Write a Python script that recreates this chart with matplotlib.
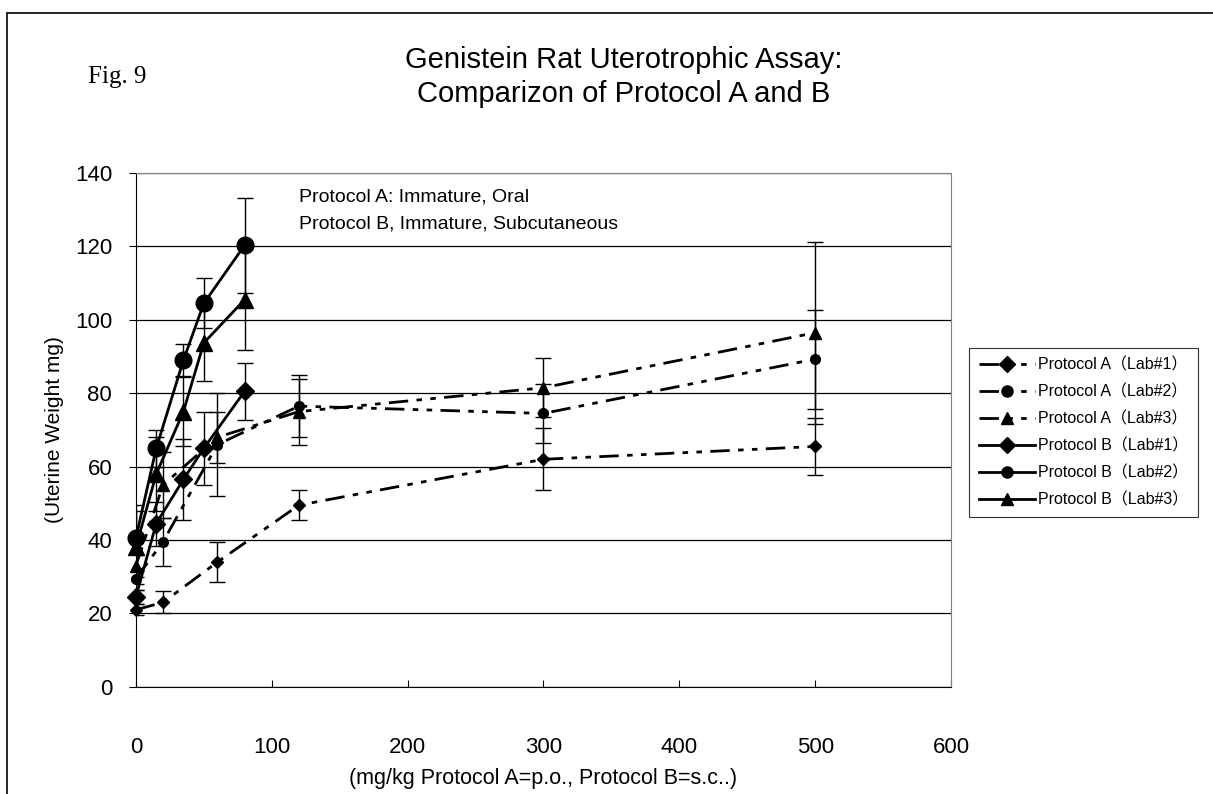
import matplotlib
matplotlib.use("Agg")
import matplotlib.pyplot as plt
from matplotlib.patches import Rectangle

plt.rcParams['font.family'] = ['Liberation Sans', 'Noto Sans CJK JP', 'DejaVu Sans']

# doses
dose_a = [0, 20, 60, 120, 300, 500]
dose_b = [0, 15, 35, 50, 80]

# Protocol A (oral)
a_lab1 = [21, 23, 34, 49.5, 62, 65.5]
a_lab1_err = [1.5, 3, 5.5, 4, 8.5, 7.8]
a_lab2 = [29.5, 39.5, 66, 76.5, 74.5, 89.3]
a_lab2_err = [3, 6.5, 14, 8.5, 8, 13.5]
a_lab3 = [33, 55, 68, 75, 81.5, 96.5]
a_lab3_err = [3, 9, 7, 9, 8, 24.8]

# Protocol B (subcutaneous)
b_lab1 = [24.5, 44.5, 56.5, 65, 80.5]
b_lab1_err = [2, 6, 11, 10, 7.8]
b_lab2 = [40.5, 65, 89, 104.5, 120.3]
b_lab2_err = [9, 5, 4.3, 6.8, 13]
b_lab3 = [38, 58, 75, 93.7, 105.5]
b_lab3_err = [10, 10, 9.3, 10.3, 13.7]

labels = ["Protocol A\uff08Lab#1\uff09", "Protocol A\uff08Lab#2\uff09", "Protocol A\uff08Lab#3\uff09",
          "Protocol B\uff08Lab#1\uff09", "Protocol B\uff08Lab#2\uff09", "Protocol B\uff08Lab#3\uff09"]

fig = plt.figure(figsize=(12.13, 7.94), dpi=100)
ax = fig.add_axes([0.112, 0.135, 0.672, 0.647])

dash_a = (0, (7, 3, 2, 3, 2, 3))
series = [
    (dose_a, a_lab1, a_lab1_err, 'D', 6, dash_a),
    (dose_a, a_lab2, a_lab2_err, 'o', 7, dash_a),
    (dose_a, a_lab3, a_lab3_err, '^', 8, dash_a),
    (dose_b, b_lab1, b_lab1_err, 'D', 9, '-'),
    (dose_b, b_lab2, b_lab2_err, 'o', 12, '-'),
    (dose_b, b_lab3, b_lab3_err, '^', 11, '-'),
]
for (x, y, e, m, ms, ls), lab in zip(series, labels):
    ax.errorbar(x, y, yerr=e, fmt='none', ecolor='black', elinewidth=1,
                capsize=6, capthick=1, zorder=3)
    ax.plot(x, y, color='black', marker=m, markersize=ms, linestyle=ls,
            linewidth=2, label=lab, zorder=4, clip_on=False)

ax.set_xlim(0, 600)
ax.set_ylim(0, 140)
ax.set_xticks(range(0, 601, 100))
ax.set_yticks(range(0, 141, 20))
ax.yaxis.grid(True, color='black', linewidth=0.9)
ax.set_axisbelow(True)
for s in ['top', 'right']:
    ax.spines[s].set_color('#808080')
for s in ['left', 'bottom']:
    ax.spines[s].set_color('black')
ax.tick_params(axis='x', direction='in', length=5, labelsize=16, pad=36)
ax.tick_params(axis='y', direction='out', length=5, labelsize=16, pad=12)

ax.set_xlabel("(mg/kg Protocol A=p.o., Protocol B=s.c..)", fontsize=15.5, labelpad=7)
ax.set_ylabel("(Uterine Weight mg)", fontsize=15, labelpad=8)

ax.text(120, 133.5, "Protocol A: Immature, Oral", fontsize=14, va='center')
ax.text(120, 126.2, "Protocol B, Immature, Subcutaneous", fontsize=14, va='center')

fig.text(0.514, 0.924, "Genistein Rat Uterotrophic Assay:", fontsize=21, ha='center', va='center')
fig.text(0.514, 0.882, "Comparizon of Protocol A and B", fontsize=21, ha='center', va='center')
fig.text(0.097, 0.903, "Fig. 9", fontsize=18, family='Liberation Serif', ha='center', va='center')

leg = ax.legend(loc='upper left', bbox_to_anchor=(0.799, 0.562), bbox_transform=fig.transFigure,
                borderaxespad=0, fontsize=11.5, frameon=True, fancybox=False, edgecolor='black',
                handlelength=3.5, handletextpad=0.2, borderpad=0.6, labelspacing=0.74)
leg.get_frame().set_linewidth(0.8)
for h in leg.legend_handles:
    h.set_markersize(8)

fig.patches.append(Rectangle((0.006, -0.1), 1.2, 1.084, transform=fig.transFigure,
                             fill=False, edgecolor='black', linewidth=1.2))

fig.savefig("out.png", dpi=100)
